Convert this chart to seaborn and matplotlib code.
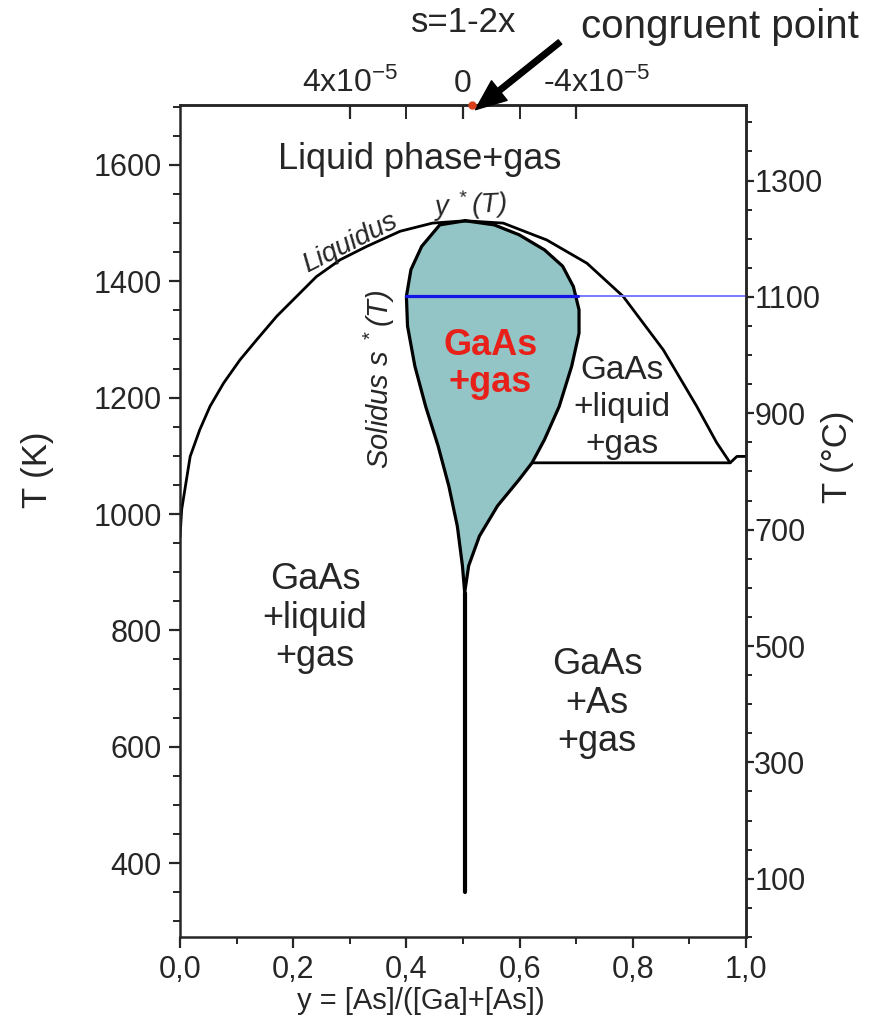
import numpy as np
import pandas as pd
import matplotlib
matplotlib.use('Agg')
import matplotlib.pyplot as plt
from matplotlib.ticker import MultipleLocator, FuncFormatter, FixedLocator
from matplotlib.transforms import ScaledTranslation
import seaborn as sns

# liquidus y*(T)
liq_y = [0.0, 0.003, 0.018, 0.035, 0.053, 0.077, 0.106, 0.136, 0.171, 0.206,
         0.241, 0.283, 0.330, 0.389, 0.446, 0.504, 0.571, 0.648, 0.719, 0.783,
         0.854, 0.913, 0.948, 0.972]
liq_T = [960, 1008, 1099, 1145, 1185, 1225, 1265, 1300, 1340, 1374,
         1408, 1437, 1460, 1486, 1500, 1504, 1500, 1471, 1431, 1374,
         1282, 1185, 1123, 1088]

# solidus s*(T), closed loop around the GaAs+gas region
sol_y = [0.504, 0.459, 0.427, 0.408, 0.400, 0.402, 0.415, 0.434, 0.456, 0.475,
         0.490, 0.499, 0.503, 0.510, 0.529, 0.561, 0.599, 0.622, 0.644, 0.670,
         0.692, 0.705, 0.705, 0.695, 0.676, 0.644, 0.599, 0.555, 0.504]
sol_T = [1504, 1497, 1460, 1420, 1374, 1323, 1254, 1185, 1117, 1048,
         979, 911, 865, 911, 962, 1014, 1059, 1088, 1128, 1185,
         1254, 1311, 1351, 1391, 1426, 1454, 1480, 1497, 1504]

# stoichiometric line below the cusp
stem_y = [0.503, 0.503]
stem_T = [865, 350]

# three-phase line on the As-rich side
eut_y = [0.622, 0.972, 0.984, 1.0]
eut_T = [1088, 1088, 1099, 1099]

# isotherm at 1100 C
iso_T = 1374
iso_dark = [0.400, 0.704]
iso_light = [0.704, 1.0]

congruent_y, congruent_T = 0.516, 1703

top_ticks = [0.3, 0.5, 0.7]
top_labels = [r'4x10$^{-5}$', '0', r'-4x10$^{-5}$']
celsius_ticks = [100, 300, 500, 700, 900, 1100, 1300]

sns.set_style('ticks')
plt.rcParams['font.family'] = ['Liberation Sans', 'DejaVu Sans']
plt.rcParams['mathtext.fontset'] = 'custom'
plt.rcParams['mathtext.rm'] = 'Liberation Sans'
plt.rcParams['mathtext.it'] = 'Liberation Sans:italic'

fig = plt.figure(figsize=(8.77, 10.22), dpi=100)
ax = fig.add_axes([180/877, 1-937/1022, 566/877, 832/1022])

liq = pd.DataFrame({'y': liq_y, 'T': liq_T})
sol = pd.DataFrame({'y': sol_y, 'T': sol_T})

ax.fill(sol['y'], sol['T'], color='#93c5c6', zorder=1)
sns.lineplot(data=liq, x='y', y='T', sort=False, estimator=None, color='black', lw=2, ax=ax)
sns.lineplot(data=sol, x='y', y='T', sort=False, estimator=None, color='black', lw=2.3, ax=ax)
sns.lineplot(x=stem_y, y=stem_T, sort=False, estimator=None, color='black', lw=3, ax=ax)
sns.lineplot(x=eut_y, y=eut_T, sort=False, estimator=None, color='black', lw=2, ax=ax)
sns.lineplot(x=iso_light, y=[iso_T, iso_T], sort=False, estimator=None, color='#7a7aff', lw=1.4, ax=ax)
sns.lineplot(x=iso_dark, y=[iso_T, iso_T], sort=False, estimator=None, color='#1414e6', lw=2.3, ax=ax)

ax.plot([congruent_y], [congruent_T], 'o', color='#d8401a', ms=5, clip_on=False, zorder=5)

ax.set_xlim(0, 1)
ax.set_ylim(273, 1703)
ax.set_xlabel('')
ax.set_ylabel('')

ax.xaxis.set_major_locator(MultipleLocator(0.2))
ax.xaxis.set_minor_locator(MultipleLocator(0.1))
ax.xaxis.set_major_formatter(FuncFormatter(lambda v, p: f'{v:.1f}'.replace('.', ',')))
ax.yaxis.set_major_locator(MultipleLocator(200))
ax.yaxis.set_minor_locator(MultipleLocator(50))
ax.tick_params(which='major', direction='out', length=8, width=1.6, labelsize=22, pad=5)
ax.tick_params(which='minor', direction='out', length=5, width=1.4)
for s in ax.spines.values():
    s.set_linewidth(1.8)

# top axis: s = 1-2x
top = ax.secondary_xaxis('top')
top.xaxis.set_major_locator(FixedLocator(top_ticks))
top.xaxis.set_minor_locator(FixedLocator([0.4, 0.6]))
top.set_xticklabels(top_labels)
top.tick_params(which='major', direction='in', length=10, width=1.6, labelsize=23, pad=4)
top.tick_params(which='minor', direction='in', length=10, width=1.4)
top.spines['top'].set_linewidth(1.8)
lab = top.xaxis.get_majorticklabels()[2]
lab.set_transform(lab.get_transform() + ScaledTranslation(0.2, 0, fig.dpi_scale_trans))

# right axis in Celsius
right = ax.secondary_yaxis('right', functions=(lambda t: t - 273.15, lambda c: c + 273.15))
right.yaxis.set_major_locator(FixedLocator(celsius_ticks))
right.yaxis.set_minor_locator(MultipleLocator(50))
right.yaxis.set_major_formatter(FuncFormatter(lambda v, p: f'{v:.0f}'))
right.tick_params(which='major', direction='out', length=6, width=1.6, labelsize=22, pad=0)
right.tick_params(which='minor', direction='out', length=4, width=1.4)
right.spines['right'].set_linewidth(1.8)

# axis titles
fig.text(38/877, 1-470/1022, 'T (K)', fontsize=25, rotation=90, ha='center', va='center')
fig.text(838/877, 1-457/1022, 'T (°C)', fontsize=25, rotation=90, ha='center', va='center')
fig.text(421/877, 1-1001/1022, 'y = [As]/([Ga]+[As])', fontsize=21, ha='center', va='center')

# region labels
ax.text(0.424, 1610, 'Liquid phase+gas', fontsize=26, ha='center', va='center')
ax.text(0.30, 1466, 'Liquidus', fontsize=20, style='italic', rotation=27, ha='center', va='center')
ax.text(0.512, 1530, r'y $^*$(T)', fontsize=20, style='italic', rotation=3, ha='center', va='center')
ax.text(0.352, 1232, r'Solidus s $^*$(T)', fontsize=21, style='italic', rotation=90, ha='center', va='center')
ax.text(0.548, 1258, 'GaAs\n+gas', fontsize=26, fontweight='bold', color='#e8201a',
        ha='center', va='center', linespacing=1.05)
ax.text(0.781, 1183, 'GaAs\n+liquid\n+gas', fontsize=24, ha='center', va='center', linespacing=1.25)
ax.text(0.2385, 821, 'GaAs\n+liquid\n+gas', fontsize=26, ha='center', va='center', linespacing=1.14)
ax.text(0.737, 675, 'GaAs\n+As\n+gas', fontsize=26, ha='center', va='center', linespacing=1.14)

# congruent point annotation
fig.text(464/877, 1-23/1022, 's=1-2x', fontsize=25, ha='center', va='center')
fig.text(581/877, 1-27/1022, 'congruent point', fontsize=29, ha='left', va='center')
ax.annotate('', xy=(congruent_y + 0.006, congruent_T - 8), xycoords='data',
            xytext=(560/877, 1-42/1022), textcoords='figure fraction',
            arrowprops=dict(facecolor='black', edgecolor='black', width=4,
                            headwidth=18, headlength=22, shrink=0),
            annotation_clip=False)

fig.savefig('out.png', dpi=100)
